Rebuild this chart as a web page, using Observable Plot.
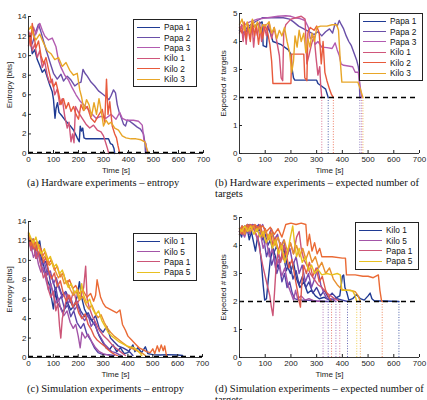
<!DOCTYPE html>
<html>
<head>
<meta charset="utf-8">
<script src="https://cdn.jsdelivr.net/npm/d3@7"></script>
<script src="https://cdn.jsdelivr.net/npm/@observablehq/plot@0.6"></script>
<style>
  html, body { margin: 0; padding: 0; background: #fff; }
  body { width: 427px; height: 400px; position: relative; overflow: hidden; }
  .panel { position: absolute; }
  .caption { position: absolute; font-family: "Liberation Serif", serif; font-size: 10.5px; color: #111; white-space: nowrap; line-height: 11px; }
  .legend { position: absolute; background: #fff; border: 1px solid #222; font-family: "Liberation Sans", Arial, sans-serif; font-size: 8.3px; color: #111; padding: 2px 6px 2px 3px; white-space: nowrap; }
  .legend .row { display: flex; align-items: center; height: 10.4px; }
  .legend .sw { width: 23px; height: 0; border-top: 1.5px solid; margin-right: 4px; }
</style>
</head>
<body>
<script>
// Time axis and tick labels shared by every panel
const timeTicks = [0, 100, 200, 300, 400, 500, 600, 700];
const entropyTicks = [0, 2, 4, 6, 8, 10, 12, 14];
const targetTicks = [0, 1, 2, 3, 4, 5];

// Thresholds: dashed reference lines
const entropyThreshold = 0.1;
const targetThreshold = 2;

// ---- Hardware experiments ----
const hwNames = ["Papa 1", "Papa 2", "Papa 3", "Kilo 1", "Kilo 2", "Kilo 3"];
const hwColors = ["#1f3a93", "#6a4fa8", "#b25bb0", "#d0567a", "#e85a3c", "#e8a628"];

const hwEntropy = [
  [[0,12.2],[8,11.5],[15,10.2],[25,10.6],[35,9.6],[45,9.0],[55,8.3],[65,8.6],[75,7.8],[85,7.0],[95,6.3],[100,5.5],[106,3.6],[110,4.6],[116,5.2],[122,4.2],[135,3.8],[150,3.3],[165,2.9],[180,2.4],[195,1.6],[203,1.2],[207,2.8],[212,2.3],[217,2.6],[222,1.6],[230,1.5],[320,1.5],[328,1.0],[336,0.9],[342,0.5],[345,0]],
  [[0,12.0],[15,11.2],[30,12.5],[40,13.2],[50,12.4],[60,11.5],[70,10.6],[80,9.8],[90,9.0],[100,8.2],[115,7.6],[130,8.1],[140,7.4],[155,7.9],[170,7.5],[185,6.9],[200,7.2],[210,7.3],[218,8.6],[226,8.2],[235,7.9],[250,7.3],[265,6.9],[280,6.4],[295,6.1],[310,5.8],[322,5.5],[330,5.9],[340,6.5],[348,6.2],[355,5.0],[362,4.3],[372,3.6],[380,3.0],[388,2.8],[395,3.4],[405,3.3],[420,3.0],[435,2.7],[448,2.5],[460,2.0],[466,1.0],[468,0]],
  [[0,12.5],[10,11.8],[20,12.9],[30,12.2],[45,13.3],[55,12.6],[65,12.0],[80,11.6],[95,11.8],[110,10.9],[120,9.5],[130,8.8],[145,8.0],[160,7.5],[175,6.7],[190,6.0],[205,5.4],[220,5.0],[240,4.5],[255,4.0],[270,3.6],[290,3.8],[310,3.6],[330,4.0],[350,3.5],[365,4.2],[375,3.6],[390,3.4],[420,3.4],[440,3.3],[455,2.9],[462,1.3],[470,1.0],[475,0]],
  [[0,11.0],[8,12.3],[15,10.5],[25,11.2],[35,9.8],[45,10.5],[55,8.8],[65,9.4],[75,8.0],[85,7.2],[95,7.6],[105,6.0],[115,6.6],[125,5.0],[135,5.6],[145,3.8],[155,2.6],[162,3.2],[170,1.2],[176,2.0],[182,1.1],[188,4.8],[200,4.2],[215,3.6],[230,3.0],[245,2.6],[260,2.9],[275,2.4],[290,2.2],[300,1.8],[310,1.0],[316,0.5],[321,0]],
  [[0,12.4],[8,11.0],[15,13.3],[22,12.0],[30,10.8],[40,11.5],[50,10.0],[60,9.2],[70,9.8],[80,8.6],[90,7.5],[100,6.8],[110,7.3],[120,6.2],[130,5.0],[140,5.6],[150,4.6],[160,5.2],[170,4.3],[180,4.8],[190,4.0],[200,3.5],[210,5.0],[220,4.4],[235,4.8],[250,3.6],[265,3.2],[280,3.9],[295,4.5],[305,3.2],[312,7.6],[318,4.0],[325,5.3],[335,2.8],[345,2.0],[352,1.6],[358,0.8],[365,0]],
  [[0,12.6],[10,13.0],[20,12.1],[30,11.6],[45,12.2],[60,11.3],[75,10.5],[90,10.2],[105,9.6],[120,9.8],[135,8.9],[150,9.3],[165,8.5],[180,8.0],[195,8.2],[205,6.5],[212,5.8],[222,4.4],[232,5.5],[242,5.0],[252,3.8],[262,5.2],[272,4.0],[282,5.6],[292,4.2],[300,2.8],[310,3.4],[320,3.0],[330,3.2],[345,2.6],[360,2.4],[375,1.8],[390,1.6],[410,1.5],[430,1.5],[450,1.4],[465,1.2],[472,0.6],[480,0]]
];

const hwTargets = [
  [[0,4.4],[20,4.3],[40,4.5],[70,4.6],[88,4.7],[92,3.85],[105,3.8],[110,4.55],[120,4.3],[130,4.0],[160,3.9],[190,3.7],[200,3.55],[205,3.0],[210,2.7],[215,2.62],[300,2.62],[305,2.5],[320,2.4],[335,2.3],[345,2.0]],
  [[0,4.4],[15,4.3],[30,4.5],[50,4.65],[70,4.75],[90,4.85],[130,4.85],[170,4.85],[195,4.8],[210,4.7],[230,4.55],[250,4.45],[270,4.35],[290,4.25],[305,4.35],[320,4.2],[335,4.35],[350,4.45],[362,4.3],[372,4.65],[380,4.55],[388,4.75],[396,4.6],[405,4.45],[415,4.2],[425,4.0],[435,3.85],[445,3.6],[455,3.35],[462,3.1],[465,2.9],[468,2.0]],
  [[0,4.5],[20,4.6],[40,4.7],[70,4.8],[110,4.85],[150,4.9],[180,4.92],[200,4.9],[215,4.85],[235,4.82],[255,4.75],[268,4.5],[275,4.1],[285,4.2],[295,3.9],[305,4.0],[320,3.8],[340,3.78],[360,3.75],[372,3.95],[380,3.7],[388,3.5],[395,3.2],[405,3.15],[440,3.1],[450,2.9],[462,2.9],[475,2.0]],
  [[0,4.3],[8,4.6],[14,4.0],[20,4.5],[26,3.9],[32,4.6],[40,4.1],[48,4.7],[55,3.8],[62,4.5],[70,4.2],[78,4.7],[86,4.0],[95,4.6],[105,4.2],[115,4.7],[125,4.1],[135,4.5],[145,4.0],[155,3.5],[162,2.7],[168,2.6],[172,4.3],[180,4.6],[190,4.7],[200,4.8],[220,4.85],[240,4.9],[255,4.8],[262,3.2],[270,3.5],[280,3.9],[290,4.2],[298,3.4],[305,2.8],[312,3.1],[316,2.4],[320,2.0]],
  [[0,4.5],[10,4.3],[18,4.7],[26,4.1],[34,4.6],[42,4.0],[50,4.7],[58,4.2],[66,4.6],[74,3.9],[82,4.5],[90,4.1],[100,4.6],[110,4.3],[118,3.9],[125,3.3],[130,2.5],[160,2.5],[200,2.5],[203,3.55],[250,3.55],[254,2.7],[262,2.6],[266,4.3],[275,4.5],[290,4.4],[300,4.55],[310,4.3],[318,3.2],[325,4.0],[332,2.9],[340,2.6],[350,2.3],[358,2.1],[365,2.0]],
  [[0,4.6],[10,4.8],[20,4.4],[30,4.7],[40,4.3],[50,4.8],[60,4.5],[70,4.7],[80,4.3],[90,4.6],[100,4.55],[115,4.7],[125,4.3],[135,4.5],[145,4.1],[155,4.4],[165,4.2],[175,4.5],[185,4.0],[195,3.6],[203,2.9],[210,3.3],[216,4.2],[224,3.8],[232,4.4],[240,4.0],[250,4.3],[258,3.6],[266,4.1],[274,3.8],[282,4.3],[292,4.0],[300,4.5],[315,4.55],[340,4.55],[360,4.6],[378,4.6],[385,4.4],[392,3.3],[398,2.55],[430,2.55],[460,2.55],[470,2.3],[480,2.0]]
];

// ---- Simulation experiments ----
const simNames = ["Kilo 1", "Kilo 2", "Kilo 3", "Kilo 4", "Kilo 5", "Papa 1", "Papa 2", "Papa 3", "Papa 4", "Papa 5"];
const simColors = ["#1f3a93", "#3d3f9e", "#5a45a8", "#7d4caf", "#a355a8", "#cc5577", "#e05a4a", "#ea6a35", "#e89030", "#e8c020"];
const simLegend = ["Kilo 1", "Kilo 5", "Papa 1", "Papa 5"];

const simEntropy = [
  [[0,12.4],[10,11.6],[18,12.2],[26,10.8],[35,11.5],[45,12.0],[55,10.2],[65,9.0],[75,8.0],[85,7.4],[92,6.2],[100,5.0],[108,6.8],[116,5.6],[128,5.2],[140,4.6],[155,5.8],[170,4.9],[185,5.4],[195,6.2],[205,7.8],[212,6.4],[225,5.0],[240,4.2],[255,3.8],[270,3.2],[285,2.2],[300,1.5],[312,1.0],[325,0.8],[340,1.3],[355,0.6],[370,1.0],[385,0.4],[400,0.5],[420,1.3],[428,0.6],[440,1.0],[455,0.5],[470,1.1],[480,0.4],[500,0.3],[530,0.25],[560,0.3],[600,0.25],[620,0.2]],
  [[0,12.2],[12,11.0],[22,11.8],[32,10.5],[45,10.9],[58,9.6],[70,9.9],[82,8.7],[95,8.2],[108,7.0],[120,7.5],[135,6.4],[150,6.8],[165,5.9],[180,5.2],[195,5.8],[210,4.8],[225,4.2],[240,4.6],[255,3.8],[270,4.3],[285,3.0],[300,2.6],[315,3.2],[330,2.0],[345,1.6],[360,1.2],[380,1.0],[400,0.7],[410,0.5],[420,0.2]],
  [[0,12.6],[10,11.3],[20,12.0],[30,10.2],[42,10.8],[55,9.2],[68,8.5],[80,9.0],[90,7.4],[100,6.6],[110,7.2],[120,5.8],[132,6.3],[145,5.0],[158,5.4],[170,4.2],[182,4.8],[195,3.6],[210,3.0],[222,3.5],[235,2.4],[250,1.8],[265,1.0],[280,0.5],[300,0.3],[320,0.3],[345,0.2]],
  [[0,12.8],[8,12.0],[18,11.2],[28,11.8],[40,10.6],[52,9.4],[64,9.9],[76,8.5],[88,8.9],[100,7.6],[112,8.2],[124,7.0],[136,6.2],[148,6.7],[160,5.6],[172,6.0],[185,4.9],[198,5.4],[212,4.3],[226,3.8],[240,4.4],[252,3.2],[265,3.7],[278,2.6],[292,2.0],[305,1.4],[320,1.0],[335,0.6],[350,0.5],[365,0.3],[375,0.2]],
  [[0,12.5],[10,11.4],[20,10.3],[30,10.9],[40,9.6],[50,8.8],[60,9.3],[70,8.0],[80,7.0],[90,7.6],[100,6.4],[110,5.6],[120,6.1],[130,5.0],[142,4.3],[155,4.8],[168,3.6],[180,3.0],[190,3.4],[200,2.2],[208,1.0],[215,2.6],[228,2.0],[240,2.4],[255,1.6],[270,1.0],[285,0.6],[300,0.4],[315,0.3],[325,0.2]],
  [[0,12.3],[10,11.0],[20,11.8],[30,10.2],[40,10.7],[50,9.4],[60,8.2],[70,8.7],[80,7.0],[90,6.2],[100,6.8],[110,4.8],[118,5.6],[125,3.2],[130,2.0],[136,4.0],[145,5.2],[158,6.5],[170,5.8],[182,6.9],[195,5.5],[210,6.2],[222,7.2],[230,9.4],[236,6.0],[245,5.1],[258,4.2],[270,3.6],[285,2.8],[300,2.3],[320,1.8],[340,1.2],[355,0.9],[370,0.6],[380,0.4],[390,0.2]],
  [[0,12.6],[10,12.0],[20,11.2],[30,11.9],[40,10.6],[50,11.2],[60,9.8],[70,10.3],[80,9.0],[92,8.1],[104,8.7],[116,7.3],[128,7.9],[140,6.6],[152,5.8],[165,6.4],[178,5.2],[190,5.7],[202,4.6],[215,4.0],[228,4.5],[240,3.4],[252,2.9],[264,2.2],[276,1.8],[290,1.5],[305,1.2],[320,0.8],[335,0.5],[348,0.3],[358,0.2]],
  [[0,12.8],[10,11.5],[20,12.2],[32,11.0],[44,11.6],[56,10.4],[68,10.9],[80,9.6],[92,10.1],[104,9.0],[116,9.4],[128,8.3],[140,8.7],[152,7.6],[165,8.0],[178,7.1],[190,7.4],[205,6.6],[220,6.9],[235,6.2],[250,6.6],[262,5.8],[270,6.4],[276,8.0],[282,7.2],[290,6.2],[300,5.6],[310,5.2],[325,5.0],[340,4.8],[355,4.6],[368,4.9],[378,3.4],[390,2.8],[400,2.2],[415,1.8],[430,1.4],[445,1.0],[460,0.8],[475,0.6],[490,0.5],[500,0.9],[508,0.4],[518,1.2],[526,0.6],[534,1.3],[542,0.7],[548,1.2],[555,0.2]],
  [[0,12.7],[12,12.1],[24,11.4],[36,11.9],[48,10.8],[60,10.2],[72,10.6],[84,9.5],[96,9.8],[108,8.9],[120,8.2],[132,8.6],[144,7.6],[156,7.9],[168,7.0],[180,6.4],[192,6.8],[205,5.9],[218,6.3],[230,5.5],[242,5.0],[255,5.4],[268,4.6],[280,4.1],[292,4.4],[305,3.6],[318,3.0],[330,2.6],[345,2.2],[360,1.9],[375,1.6],[390,1.3],[405,1.0],[420,0.9],[435,0.7],[450,0.5],[460,0.4],[470,0.2]],
  [[0,12.9],[10,12.3],[20,11.8],[30,12.4],[40,11.3],[52,10.7],[64,11.2],[76,10.0],[88,10.4],[100,9.3],[112,9.6],[124,8.6],[136,9.0],[148,8.0],[160,7.2],[172,7.6],[184,6.6],[196,7.0],[206,6.0],[214,7.6],[222,6.4],[234,5.6],[246,6.0],[258,5.0],[270,4.4],[282,4.8],[295,3.8],[308,3.2],[320,2.6],[335,2.2],[350,1.9],[365,1.6],[380,1.4],[395,1.2],[410,1.1],[425,1.0],[440,0.7],[450,0.4],[456,0.2]]
];

const simTargets = [
  [[0,4.5],[8,4.3],[15,4.6],[22,4.4],[30,4.6],[38,4.2],[46,4.5],[55,4.1],[62,3.8],[70,4.3],[78,4.0],[85,3.4],[92,2.6],[98,2.05],[105,2.1],[112,2.8],[120,3.5],[130,3.9],[140,3.6],[150,3.2],[160,3.5],[172,3.9],[185,3.3],[198,3.0],[210,3.4],[222,2.8],[235,2.5],[250,2.7],[265,2.3],[280,2.4],[295,2.2],[310,2.1],[330,2.15],[350,2.05],[370,2.1],[390,2.2],[400,2.9],[405,2.95],[410,2.5],[418,2.3],[425,2.05],[440,2.1],[455,2.25],[470,2.1],[485,2.05],[500,2.2],[508,2.3],[515,2.1],[525,2.02],[560,2.02],[620,2.0]],
  [[0,4.4],[10,4.6],[20,4.5],[30,4.7],[40,4.4],[50,4.6],[60,4.7],[70,4.5],[80,4.6],[90,4.2],[100,4.4],[110,4.0],[120,4.2],[132,3.7],[145,4.0],[158,3.4],[170,3.7],[182,3.1],[195,3.4],[208,2.8],[220,3.1],[232,2.6],[245,2.9],[258,2.5],[270,2.7],[285,2.3],[300,2.5],[315,2.2],[330,2.4],[345,2.15],[360,2.3],[380,2.1],[400,2.05],[420,2.0]],
  [[0,4.5],[10,4.7],[20,4.6],[30,4.75],[45,4.7],[60,4.6],[75,4.75],[85,4.5],[95,4.2],[105,3.6],[115,3.9],[125,3.3],[135,3.6],[145,3.0],[155,3.3],[165,2.7],[175,3.0],[185,2.5],[195,2.7],[205,2.3],[215,2.1],[230,2.05],[260,2.05],[300,2.02],[345,2.0]],
  [[0,4.6],[10,4.4],[20,4.7],[35,4.65],[50,4.75],[65,4.7],[80,4.6],[90,4.75],[100,4.5],[112,4.3],[124,4.6],[136,4.2],[148,4.4],[160,3.9],[172,4.2],[184,3.6],[196,3.9],[208,3.3],[220,3.6],[232,3.0],[244,3.3],[256,2.7],[268,3.0],[280,2.5],[292,2.8],[304,3.2],[316,2.6],[328,2.3],[340,2.1],[355,2.1],[375,2.0]],
  [[0,4.4],[10,4.5],[20,4.3],[30,4.6],[40,4.4],[50,4.7],[60,4.5],[70,4.2],[80,4.5],[92,3.9],[104,4.2],[116,3.6],[128,3.9],[140,3.2],[152,3.5],[164,2.9],[176,3.2],[188,2.6],[200,2.3],[210,2.05],[218,2.4],[226,2.1],[240,2.2],[255,2.05],[270,2.1],[290,2.02],[325,2.0]],
  [[0,4.5],[10,4.6],[20,4.4],[30,4.7],[40,4.6],[50,4.7],[60,4.5],[70,4.3],[80,3.8],[90,3.3],[100,2.9],[110,2.5],[118,2.2],[124,1.8],[130,1.5],[136,2.3],[142,3.2],[150,3.8],[160,3.4],[172,4.0],[185,3.6],[198,4.1],[210,3.7],[222,4.3],[232,4.5],[240,3.9],[250,3.5],[262,3.3],[275,3.0],[290,2.8],[305,2.6],[320,2.5],[340,2.3],[355,2.2],[370,2.1],[390,2.0]],
  [[0,4.6],[10,4.4],[20,4.7],[30,4.5],[40,4.75],[55,4.7],[70,4.6],[80,4.75],[90,4.4],[100,4.6],[110,4.2],[120,4.5],[130,4.0],[140,4.3],[150,3.8],[160,4.1],[170,3.5],[180,3.8],[192,3.2],[204,3.5],[215,2.9],[225,2.4],[232,2.0],[237,1.8],[242,2.6],[250,3.3],[260,3.0],[272,3.4],[285,2.9],[298,3.2],[310,2.7],[322,2.9],[335,2.4],[345,2.2],[358,2.0]],
  [[0,4.5],[10,4.7],[20,4.5],[30,4.75],[45,4.6],[60,4.75],[75,4.6],[90,4.7],[105,4.5],[120,4.65],[135,4.4],[150,4.6],[165,4.3],[180,4.75],[200,4.8],[220,4.75],[240,4.8],[258,4.75],[264,4.0],[272,4.4],[282,3.8],[292,4.1],[302,3.7],[312,3.9],[320,3.6],[360,3.6],[400,3.55],[412,3.55],[416,2.95],[450,2.95],[480,2.9],[500,2.9],[520,2.85],[540,2.95],[546,2.4],[552,2.05],[555,2.0]],
  [[0,4.4],[10,4.6],[20,4.4],[30,4.65],[42,4.5],[54,4.7],[66,4.5],[78,4.65],[90,4.3],[102,4.55],[114,4.2],[126,4.45],[138,4.0],[150,4.3],[162,3.9],[174,4.2],[186,3.8],[198,4.1],[210,3.7],[222,4.0],[234,3.6],[246,3.9],[258,3.5],[270,3.8],[282,3.4],[295,3.6],[308,3.2],[320,3.4],[335,3.0],[350,3.2],[365,2.8],[380,2.6],[395,2.45],[410,2.4],[430,2.4],[450,2.35],[462,2.2],[470,2.0]],
  [[0,4.6],[10,4.5],[20,4.7],[32,4.5],[44,4.7],[56,4.4],[68,4.6],[80,4.3],[92,4.5],[104,4.1],[116,4.4],[128,3.9],[140,4.2],[152,3.7],[164,4.0],[176,3.4],[188,3.8],[198,4.3],[207,4.7],[214,4.1],[222,3.6],[232,3.9],[244,3.4],[256,3.6],[268,3.1],[280,3.3],[292,3.0],[305,3.15],[320,2.95],[340,3.0],[360,2.95],[380,3.0],[392,2.95],[398,2.4],[420,2.4],[440,2.38],[450,2.2],[456,2.0]]
];

// Flatten a list of series into tidy rows {name, t, v}
function rows(names, series) {
  return series.flatMap((pts, i) => pts.map(([t, v]) => ({name: names[i], t, v})));
}
// Final sample of each run (time at which the run finished)
function finals(names, series) {
  return series.map((pts, i) => ({name: names[i], t: pts[pts.length - 1][0]}));
}

const plainNumber = (d) => String(d);

function panel({left, top, width, height, margins, names, colors, series, yMax, yTicks, yLabel, threshold, endMarks, yLabelOffset}) {
  const data = rows(names, series);
  const marks = [
    Plot.line(data, {x: "t", y: "v", z: "name", stroke: "name", strokeWidth: 1.4, strokeLinejoin: "round"}),
  ];
  if (endMarks) {
    marks.push(Plot.ruleX(finals(names, series), {x: "t", y1: 0, y2: threshold, stroke: "name", strokeWidth: 0.8, strokeDasharray: "1,1.6"}));
  }
  marks.push(
    Plot.ruleY([threshold], {stroke: "#000", strokeWidth: 1.7, strokeDasharray: "5,4"}),
    Plot.ruleX([0], {stroke: "#222", strokeWidth: 0.9}),
    Plot.ruleY([0], {stroke: "#222", strokeWidth: 0.9}),
    Plot.axisX({ticks: timeTicks, tickFormat: plainNumber, tickSize: -3, tickPadding: 6, label: "Time [s]", labelAnchor: "center", labelArrow: "none", labelOffset: 19}),
    Plot.axisY({ticks: yTicks, tickFormat: plainNumber, tickSize: -3, tickPadding: 5, label: yLabel, labelAnchor: "center", labelArrow: "none", labelOffset: yLabelOffset})
  );
  const svg = Plot.plot({
    width, height,
    marginLeft: margins[3], marginRight: margins[1], marginTop: margins[0], marginBottom: margins[2],
    style: {fontFamily: "Liberation Sans, Arial, sans-serif", fontSize: "8px", color: "#222", background: "transparent"},
    x: {domain: [0, 700]},
    y: {domain: [0, yMax]},
    color: {domain: names, range: colors},
    marks
  });
  const div = document.createElement("div");
  div.className = "panel";
  div.style.left = left + "px";
  div.style.top = top + "px";
  div.appendChild(svg);
  document.body.appendChild(div);
}

function legend({left, top, names, colors}) {
  const box = document.createElement("div");
  box.className = "legend";
  box.style.left = left + "px";
  box.style.top = top + "px";
  names.forEach((n, i) => {
    const row = document.createElement("div");
    row.className = "row";
    const sw = document.createElement("span");
    sw.className = "sw";
    sw.style.borderTopColor = colors[i];
    const lab = document.createElement("span");
    lab.textContent = n;
    row.append(sw, lab);
    box.appendChild(row);
  });
  document.body.appendChild(box);
}

function caption(left, top, lines) {
  const c = document.createElement("div");
  c.className = "caption";
  c.style.left = left + "px";
  c.style.top = top + "px";
  c.innerHTML = lines.map(l => `<div>${l}</div>`).join("");
  document.body.appendChild(c);
}

// (a) hardware entropy
panel({left: 0, top: 0, width: 213, height: 178, margins: [16, 10, 25, 28],
  names: hwNames, colors: hwColors, series: hwEntropy, yMax: 14, yTicks: entropyTicks,
  yLabel: "Entropy [bits]", threshold: entropyThreshold, endMarks: false, yLabelOffset: 22});
// (b) hardware expected number of targets
panel({left: 210, top: 0, width: 217, height: 178, margins: [13, 8, 25, 29],
  names: hwNames, colors: hwColors, series: hwTargets, yMax: 5, yTicks: targetTicks,
  yLabel: "Expected # targets", threshold: targetThreshold, endMarks: true, yLabelOffset: 19});
// (c) simulation entropy
panel({left: 0, top: 200, width: 213, height: 183, margins: [21, 11, 26, 28],
  names: simNames, colors: simColors, series: simEntropy, yMax: 14, yTicks: entropyTicks,
  yLabel: "Entropy [bits]", threshold: entropyThreshold, endMarks: false, yLabelOffset: 22});
// (d) simulation expected number of targets
panel({left: 210, top: 200, width: 217, height: 183, margins: [17, 8, 26, 29],
  names: simNames, colors: simColors, series: simTargets, yMax: 5, yTicks: targetTicks,
  yLabel: "Expected # targets", threshold: targetThreshold, endMarks: true, yLabelOffset: 19});

legend({left: 133, top: 19, names: hwNames, colors: hwColors});
legend({left: 359, top: 13, names: hwNames, colors: hwColors});
const simLegendColors = simLegend.map(n => simColors[simNames.indexOf(n)]);
legend({left: 133, top: 233, names: simLegend, colors: simLegendColors});
legend({left: 355, top: 222, names: simLegend, colors: simLegendColors});

caption(27, 177, ["(a) Hardware experiments – entropy"]);
caption(215, 177, ["(b) Hardware experiments – expected number of", "targets"]);
caption(27, 383, ["(c) Simulation experiments – entropy"]);
caption(215, 383, ["(d) Simulation experiments – expected number of", "targets"]);
</script>
</body>
</html>
